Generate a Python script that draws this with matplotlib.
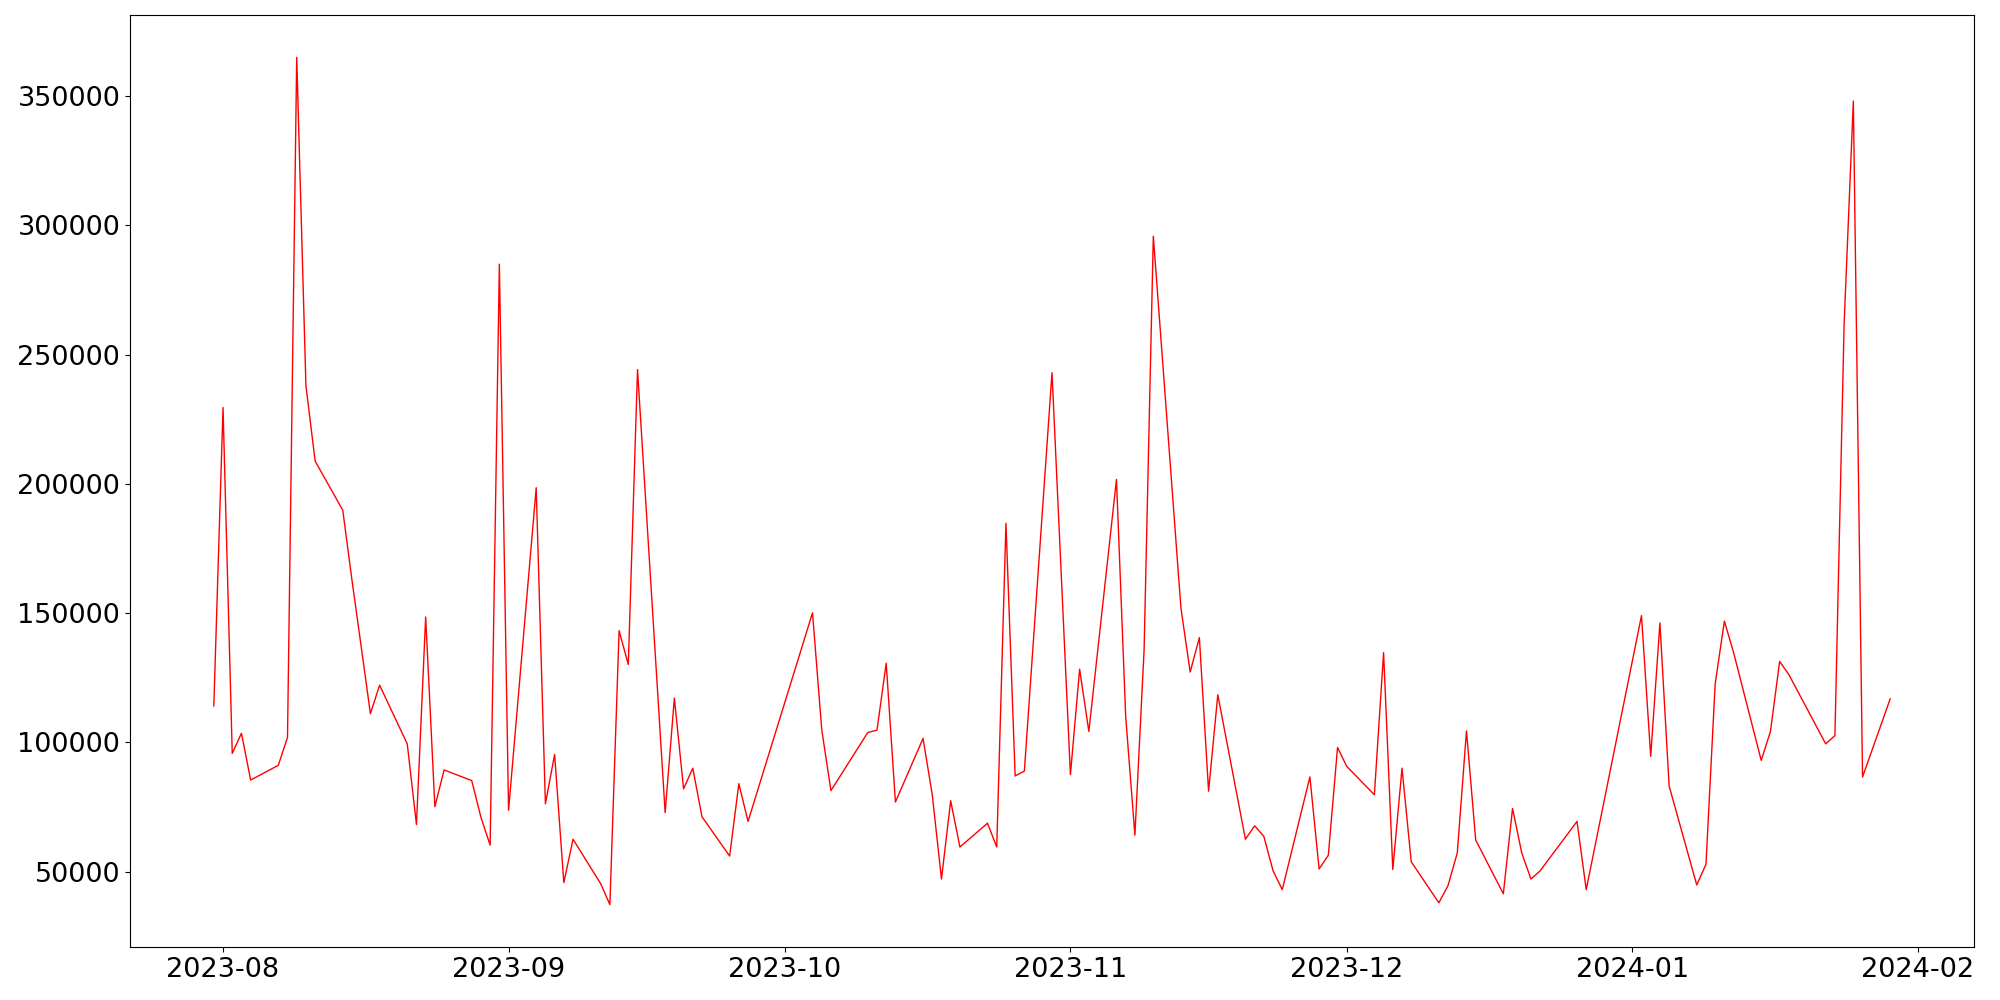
import matplotlib
matplotlib.use("Agg")
import matplotlib.pyplot as plt
import pandas as pd

# daily (weekday) values
dates = [
    "2023-07-31", "2023-08-01", "2023-08-02", "2023-08-03", "2023-08-04",
    "2023-08-07", "2023-08-08", "2023-08-09", "2023-08-10", "2023-08-11",
    "2023-08-14", "2023-08-15", "2023-08-16", "2023-08-17", "2023-08-18",
    "2023-08-21", "2023-08-22", "2023-08-23", "2023-08-24", "2023-08-25",
    "2023-08-28", "2023-08-29", "2023-08-30", "2023-08-31", "2023-09-01",
    "2023-09-04", "2023-09-05", "2023-09-06", "2023-09-07", "2023-09-08",
    "2023-09-11", "2023-09-12", "2023-09-13", "2023-09-14", "2023-09-15",
    "2023-09-18", "2023-09-19", "2023-09-20", "2023-09-21", "2023-09-22",
    "2023-09-25", "2023-09-26", "2023-09-27", "2023-10-04", "2023-10-05",
    "2023-10-06", "2023-10-10", "2023-10-11", "2023-10-12", "2023-10-13",
    "2023-10-16", "2023-10-17", "2023-10-18", "2023-10-19", "2023-10-20",
    "2023-10-23", "2023-10-24", "2023-10-25", "2023-10-26", "2023-10-27",
    "2023-10-30", "2023-11-01", "2023-11-02", "2023-11-03", "2023-11-06",
    "2023-11-07", "2023-11-08", "2023-11-09", "2023-11-10", "2023-11-13",
    "2023-11-14", "2023-11-15", "2023-11-16", "2023-11-17", "2023-11-20",
    "2023-11-21", "2023-11-22", "2023-11-23", "2023-11-24", "2023-11-27",
    "2023-11-28", "2023-11-29", "2023-11-30", "2023-12-01", "2023-12-04",
    "2023-12-05", "2023-12-06", "2023-12-07", "2023-12-08", "2023-12-11",
    "2023-12-12", "2023-12-13", "2023-12-14", "2023-12-15", "2023-12-18",
    "2023-12-19", "2023-12-20", "2023-12-21", "2023-12-22", "2023-12-26",
    "2023-12-27", "2024-01-02", "2024-01-03", "2024-01-04", "2024-01-05",
    "2024-01-08", "2024-01-09", "2024-01-10", "2024-01-11", "2024-01-12",
    "2024-01-15", "2024-01-16", "2024-01-17", "2024-01-18", "2024-01-22",
    "2024-01-23", "2024-01-24", "2024-01-25", "2024-01-26", "2024-01-29",
]
values = [
    114100, 229500, 95700, 103500, 85400,
    91100, 101900, 365000, 238000, 208800,
    189800, 162700, 137000, 111100, 122100,
    99400, 68200, 148500, 75100, 89300,
    85200, 71000, 60200, 285000, 73700,
    198500, 76200, 95300, 45700, 62500,
    45300, 37200, 143200, 130100, 244200,
    72800, 117100, 82000, 90000, 71200,
    56000, 84000, 69400, 150100, 104900,
    81300, 103800, 104700, 130600, 76900,
    101500, 79700, 47100, 77400, 59500,
    68700, 59500, 184700, 87000, 88900,
    243000, 87500, 128300, 104200, 201700,
    110000, 64100, 135900, 295800, 151900,
    127200, 140500, 81100, 118400, 62500,
    67700, 63600, 50300, 43000, 86600,
    51000, 56300, 98000, 90700, 79700,
    134700, 50800, 90000, 53800, 37900,
    44600, 57200, 104400, 62200, 41400,
    74400, 57200, 47100, 50300, 69400,
    43000, 149000, 94600, 146200, 83100,
    44800, 52800, 122600, 146900, 134700,
    93000, 104200, 131300, 126200, 99400,
    102600, 262000, 348100, 86600, 116800,
]

x = pd.to_datetime(dates)

fig, ax = plt.subplots(figsize=(20, 10), dpi=100)
fig.subplots_adjust(left=0.065, right=0.987, bottom=0.053, top=0.985)
ax.plot(x, values, color="red", lw=1.0)
ax.tick_params(labelsize=19.5)

fig.savefig("out.png", dpi=100)
